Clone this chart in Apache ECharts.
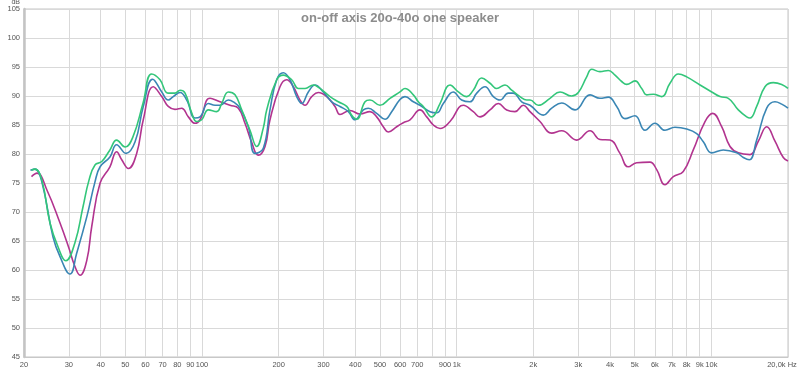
<!DOCTYPE html>
<html>
<head>
<meta charset="utf-8">
<script src="https://cdn.jsdelivr.net/npm/echarts@6/dist/echarts.min.js"></script>
<style>html,body{margin:0;padding:0;background:#fff}#c{width:800px;height:371px}</style>
</head>
<body>
<div id="c"></div>
<script>
var titleText = 'on-off axis 20o-40o one speaker';
var gridFreqs = [20,30,40,50,60,70,80,90,100,200,300,400,500,600,700,800,900,1000,2000,3000,4000,5000,6000,7000,8000,9000,10000,20000];
var labelFreqs = [20,30,40,50,60,70,80,90,100,200,300,400,500,600,700,900,1000,2000,3000,4000,5000,6000,7000,8000,9000,10000,20000];
var yTicks = [45,50,55,60,65,70,75,80,85,90,95,100,105];

var greenFreq = [21.4,22.1,23.5,25.3,27.2,29.2,31.7,34.1,36.0,38.0,40.4,43.5,46.2,49.9,53.6,58.7,63.4,68.4,73.5,78.3,82.0,85.8,91.1,95.3,99.7,105.9,114.2,119.5,126.9,134.8,143.2,154.3,164.0,174.1,179.5,196.5,208.6,225.0,239.0,253.8,273.6,290.6,318.2,343.0,370.0,387.1,405.0,436.6,456.7,499.9,547.2,599.0,626.7,675.7,707.0,739.6,798.2,860.2,941.6,1015,1095,1162,1254,1352,1436,1548,1644,1773,1883,1941,2092,2325,2546,2829,3004,3240,3390,3654,3939,4186,4445,4652,5014,5328,5574,5916,6383,6881,7418,8003,9026,10034,10816,11660,12762,13770,14184,15068,16244,17510,18892,20000];
var greenDb = [77.2,77.4,75.5,68.1,64.0,61.6,64.7,70.9,75.5,78.1,78.7,80.7,82.4,81.2,83.0,88.8,93.8,92.8,90.5,90.5,91.0,90.5,87.1,85.6,85.9,87.6,87.3,88.7,90.7,90.2,87.6,84.1,81.3,84.5,87.6,92.8,93.6,92.8,91.3,91.3,91.9,91.3,89.9,89.0,88.2,86.7,86.0,89.0,89.3,88.4,89.6,90.7,91.3,90.2,89.0,88.2,86.4,88.7,91.9,90.7,89.9,91.0,93.1,92.2,91.3,91.9,91.0,89.9,89.3,89.3,88.4,89.6,90.7,90.0,90.6,93.3,94.6,94.2,94.4,93.6,92.5,92.0,92.6,91.3,90.2,90.3,89.9,92.2,93.8,93.3,91.9,90.7,89.9,89.6,87.6,86.4,86.2,88.2,91.6,92.3,92.0,91.3];

var blueFreq = [21.2,22.1,23.5,26.0,27.7,30.3,32.2,35.3,38.0,39.8,43.5,46.2,50.3,54.6,58.8,64.0,69.5,73.7,77.1,82.0,87.1,93.9,98.2,105.9,112.5,117.7,126.9,132.7,141.0,152.0,161.5,174.1,184.9,196.5,208.6,221.6,235.4,246.3,261.5,277.8,299.5,323.1,348.2,375.4,398.8,429.9,449.8,485.2,523.1,555.7,599.0,626.7,675.7,717.8,786.0,835.0,886.3,970.0,1046,1128,1199,1292,1393,1480,1595,1668,1800,1941,2188,2362,2585,2916,3339,3654,3939,4250,4581,5014,5490,6008,6577,7199,8003,8760,9300,10034,11141,12578,13351,14095,15068,16496,17781,18892,20000];
var blueDb = [77.2,77.4,75.2,65.7,62.3,59.3,62.9,69.2,75.2,77.8,79.5,81.6,80.1,82.1,88.2,92.9,90.7,89.3,89.9,90.6,89.3,86.2,86.4,88.7,88.4,88.4,89.3,89.0,87.9,84.7,80.1,81.0,87.6,92.8,94.0,92.8,89.9,88.7,90.7,91.9,90.7,89.0,88.2,87.3,85.9,87.6,87.9,87.0,86.0,87.3,89.4,89.9,89.0,88.4,87.3,87.1,88.7,90.7,89.3,89.0,90.5,91.6,89.9,89.3,90.5,90.5,89.0,88.4,86.7,87.9,88.8,87.6,90.2,89.6,89.8,88.2,86.1,86.6,84.1,85.3,84.1,84.6,84.3,83.5,82.1,80.2,80.7,80.2,79.4,79.0,82.4,87.9,89.0,88.6,87.9];

var magentaFreq = [21.4,22.5,24.6,27.7,29.9,31.7,33.2,35.3,36.9,39.8,43.5,46.2,48.4,51.4,55.4,58.8,64.4,69.5,73.7,78.3,83.2,88.4,93.9,98.2,107.5,117.7,128.8,138.9,147.5,156.7,166.4,176.8,184.9,202.4,215.0,228.4,242.6,253.8,269.6,286.2,308.9,332.9,348.2,381.2,417.2,456.7,485.2,515.1,538.9,581.4,617.2,655.8,717.8,762.8,809.9,860.2,941.6,1062,1162,1235,1352,1457,1572,1694,1827,1941,2124,2362,2585,2960,3339,3654,4000,4377,4720,5092,5743,6101,6577,7090,7760,8494,9444,10124,10981,11840,12762,14184,15288,16496,17781,19169,20000];
var magentaDb = [76.1,76.7,73.8,68.1,64.0,60.6,59.1,61.7,67.5,75.0,77.8,80.4,79.0,77.5,80.1,85.9,91.6,89.9,88.2,87.7,87.9,86.4,85.3,85.9,89.6,89.0,88.4,87.9,85.3,82.0,79.8,81.3,85.9,91.6,92.8,91.6,89.3,88.4,89.9,90.6,89.9,88.2,86.8,87.5,86.9,87.3,86.4,84.7,83.8,84.7,85.4,85.9,87.6,86.4,85.0,84.4,85.6,88.4,87.3,86.4,87.6,88.7,87.6,87.3,88.4,87.3,85.6,83.6,84.0,82.4,84.0,82.5,82.4,80.1,77.8,78.5,78.6,77.3,74.7,76.1,77.0,80.7,85.6,87.0,84.7,81.3,80.2,79.9,82.2,84.7,82.2,79.4,78.8];

function toPts(fr, db){ return fr.map(function(f,i){ return [Math.log10(f), db[i]]; }); }
function fmtFreq(v){
  var f = Math.round(Math.pow(10, v));
  if (f >= 20000) return '{m|20,0k Hz}';
  if (f >= 1000) return Math.round(f/1000) + 'k';
  return String(f);
}

var FONT = 'Liberation Sans, Arial, sans-serif';
var chart = echarts.init(document.getElementById('c'), null, {renderer:'canvas'});
var lineCommon = {type:'line', showSymbol:false, smooth:0.45, emphasis:{disabled:true}, animation:false};
chart.setOption({
  animation:false,
  title:{text:titleText, left:'center', top:7, textStyle:{fontFamily:FONT, fontSize:13, fontWeight:'bold', color:'#8c8c8c'}},
  grid:{left:24, right:12, top:9, bottom:14, show:true, borderColor:'#c4c4c4', borderWidth:1, containLabel:false, outerBoundsMode:'none'},
  xAxis:{
    type:'value', min:Math.log10(20), max:Math.log10(20000),
    axisLine:{show:true, lineStyle:{color:'#c8c8c8', width:1}},
    axisTick:{show:false, customValues:gridFreqs.map(function(f){return Math.log10(f);})},
    axisLabel:{customValues:labelFreqs.map(function(f){return Math.log10(f);}), formatter:fmtFreq, fontSize:7.5, color:'#555', margin:4, hideOverlap:false, fontFamily:FONT,
      rich:{m:{fontSize:7.5, color:'#555', fontFamily:FONT, padding:[0,12,0,0]}}},
    splitLine:{show:true, lineStyle:{color:'#d9d9d9', width:1}}
  },
  yAxis:{
    type:'value', min:45, max:105, interval:5,
    name:'dB', nameLocation:'end', nameGap:2,
    nameTextStyle:{fontSize:7, color:'#555', align:'right', padding:[0,4,0,0], fontFamily:FONT},
    axisLine:{show:true, lineStyle:{color:'#c4c4c4', width:2.5}},
    axisTick:{show:false},
    axisLabel:{fontSize:7.5, color:'#555', margin:4, fontFamily:FONT},
    splitLine:{show:true, lineStyle:{color:'#d9d9d9', width:1}}
  },
  series:[
    Object.assign({}, lineCommon, {name:'magenta', data:toPts(magentaFreq, magentaDb), lineStyle:{width:1.6, color:'#b2348f'}, itemStyle:{color:'#b2348f'}}),
    Object.assign({}, lineCommon, {name:'blue', data:toPts(blueFreq, blueDb), lineStyle:{width:1.6, color:'#3a86b4'}, itemStyle:{color:'#3a86b4'}}),
    Object.assign({}, lineCommon, {name:'green', data:toPts(greenFreq, greenDb), lineStyle:{width:1.6, color:'#33c67a'}, itemStyle:{color:'#33c67a'}})
  ]
});
</script>
</body>
</html>
